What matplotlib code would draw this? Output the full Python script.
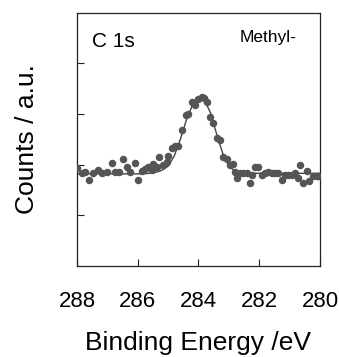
import numpy as np
import matplotlib
matplotlib.use('Agg')
import matplotlib.pyplot as plt

# --- data ---
energy = [287.99, 287.85, 287.74, 287.59, 287.46, 287.30, 287.19, 287.02, 286.86, 286.75,
          286.61, 286.47, 286.36, 286.25, 286.09, 285.98, 285.87, 285.76, 285.65, 285.54,
          285.49, 285.38, 285.29, 285.18, 285.05, 284.99, 284.88, 284.77, 284.66, 284.55,
          284.41, 284.33, 284.22, 284.11, 284.00, 283.89, 283.82, 283.73, 283.62, 283.51,
          283.40, 283.29, 283.18, 283.07, 282.96, 282.87, 282.80, 282.74, 282.63, 282.52,
          282.41, 282.32, 282.25, 282.14, 282.03, 281.92, 281.81, 281.70, 281.59, 281.48,
          281.37, 281.26, 281.15, 281.04, 280.93, 280.82, 280.71, 280.66, 280.55, 280.44,
          280.35, 280.22, 280.11, 280.05]
counts = [1.93, 1.83, 1.86, 1.69, 1.83, 1.90, 1.84, 1.85, 2.04, 1.85,
          1.85, 2.11, 1.95, 1.86, 2.03, 1.70, 1.88, 1.91, 1.95, 1.90,
          2.02, 1.96, 2.16, 2.00, 2.06, 2.18, 2.33, 2.36, 2.37, 2.69,
          2.98, 3.00, 3.23, 3.18, 3.29, 3.33, 3.31, 3.23, 2.95, 2.82,
          2.52, 2.49, 2.16, 2.11, 2.00, 2.02, 1.86, 1.73, 1.83, 1.83,
          1.84, 1.63, 1.80, 1.96, 1.96, 1.80, 1.83, 1.86, 1.83, 1.83,
          1.83, 1.70, 1.80, 1.80, 1.80, 1.83, 1.73, 2.00, 1.63, 1.88,
          1.67, 1.77, 1.78, 1.77]

# fitted envelope (traced)
fit_energy = [288.0, 286.0, 285.6, 285.4, 285.2, 285.0, 284.8, 284.6, 284.4, 284.2,
              284.0, 283.9, 283.8, 283.6, 283.4, 283.2, 283.0, 282.8, 282.6, 282.4, 280.0]
fit_counts = [1.82, 1.82, 1.83, 1.85, 1.89, 1.97, 2.17, 2.50, 2.88, 3.18,
              3.31, 3.32, 3.27, 3.02, 2.60, 2.22, 1.98, 1.87, 1.84, 1.83, 1.83]

plt.rcParams['font.family'] = ['Liberation Sans', 'DejaVu Sans']

fig = plt.figure(figsize=(3.39, 3.57), dpi=100)
ax = fig.add_axes([0.227, 0.255, 0.717, 0.709])

ax.plot(fit_energy, fit_counts, color='#444444', lw=1.0, zorder=2)
ax.plot(energy, counts, 'o', color='#555555', ms=5.4, mec='none', zorder=3)

ax.set_xlim(288, 280)
ax.set_ylim(0, 5)
ax.set_xticks([288, 286, 284, 282, 280])
ax.set_yticks([1, 2, 3, 4])
ax.set_yticklabels([])
ax.tick_params(direction='in', length=5, width=0.8, colors='#222222',
               labelsize=16, labelcolor='black')
ax.tick_params(axis='x', pad=18)
for s in ax.spines.values():
    s.set_linewidth(0.9)
    s.set_color('#222222')

ax.set_xlabel('Binding Energy /eV', fontsize=19, labelpad=14)
ax.set_ylabel('Counts / a.u.', fontsize=19, labelpad=24)

ax.text(0.06, 0.925, 'C 1s', transform=ax.transAxes, fontsize=15, va='top', ha='left')
ax.text(0.905, 0.933, 'Methyl-', transform=ax.transAxes, fontsize=12.5, va='top', ha='right')

fig.savefig('out.png', dpi=100)
